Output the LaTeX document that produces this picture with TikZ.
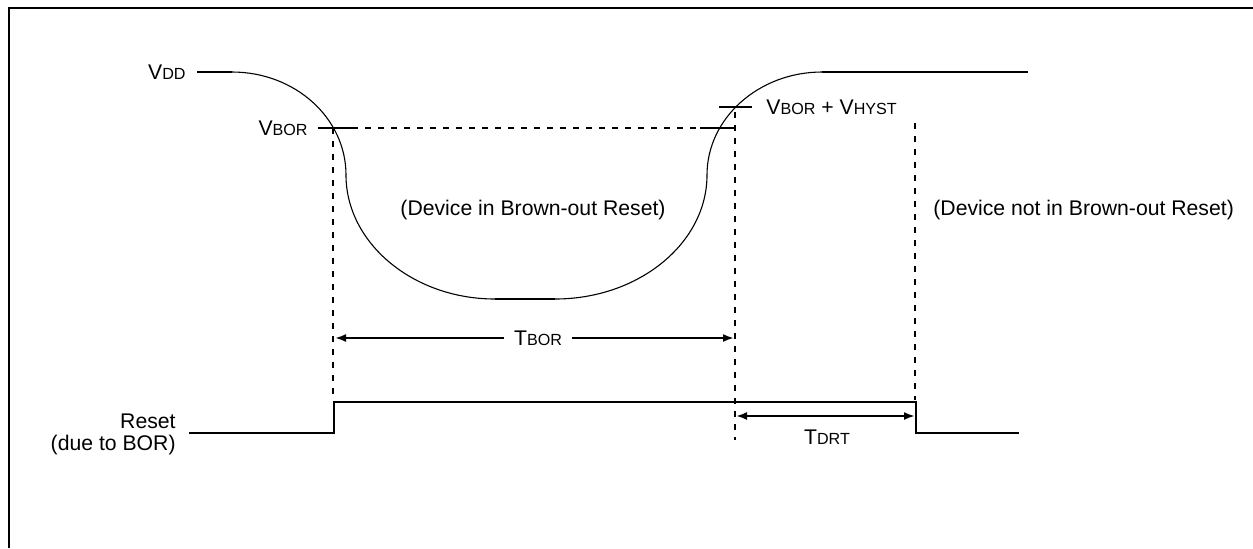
\documentclass[tikz,border=0pt]{standalone}
\usepackage{fontspec}
\setmainfont{Liberation Sans}
\usetikzlibrary{arrows.meta}
\newcommand\subtxt[1]{{\fontsize{8.06}{9}\selectfont #1}}
\begin{document}
\begin{tikzpicture}[x=0.5pt,y=-0.5pt,
  lbl/.style={inner sep=0pt,font=\fontsize{10.6}{12}\selectfont},
  sig/.style={line width=1pt},
  curv/.style={line width=0.55pt},
  dsh/.style={line width=1pt,dash pattern=on 3pt off 3.5pt},
  tip/.style={},
  dim/.style={line width=1pt,-{Latex[length=5.5pt,width=4pt]}},
  dimboth/.style={line width=1pt,{Latex[length=5.5pt,width=4pt]}-{Latex[length=5.5pt,width=4pt]}},
  frame/.style={line width=1.1pt}]
\useasboundingbox (0,0) rectangle (1253,548);
% frame
\draw[frame] (9,548) -- (9,8) -- (1253,8);
% labels
\node[lbl,anchor=east] (vdd) at (186,72) {V\subtxt{DD}};
\node[lbl,anchor=east] (vbor) at (308,128) {V\subtxt{BOR}};
\node[lbl,anchor=west] (vhyst) at (766,107) {V\subtxt{BOR} + V\subtxt{HYST}};
\node[lbl] (inbor) at (533,210) {(Device in Brown-out Reset)};
\node[lbl,anchor=west] (notbor) at (933,210) {(Device not in Brown-out Reset)};
\node[lbl,inner xsep=5pt] (tbor) at (538,338) {T\subtxt{BOR}};
\node[lbl] (tdrt) at (827,437) {T\subtxt{DRT}};
\node[lbl,anchor=east,align=right,font=\fontsize{10.6}{11}\selectfont] (rst) at (176,434) {Reset\\(due to BOR)};
% coordinates
\coordinate (a0) at (197,72);
\coordinate (a1) at (232,72);
\coordinate (a2) at (346,175);
\coordinate (a3) at (495,299);
\coordinate (a4) at (555,299);
\coordinate (a5) at (707,175);
\coordinate (a6) at (822,72);
\coordinate (a7) at (1028,72);
% VDD waveform
\draw[sig] (a0) -- (a1);
\draw[curv] (a1) .. controls (295,72) and (346,118) .. (a2)
  .. controls (346,243) and (413,299) .. (a3);
\draw[sig] (a3) -- (a4);
\draw[curv] (a4) .. controls (639,299) and (707,243) .. (a5)
  .. controls (707,118) and (759,72) .. (a6);
\draw[sig] (a6) -- (a7);
% VBOR threshold
\coordinate (b0) at (318,128);
\coordinate (b1) at (352,128);
\coordinate (b2) at (700,128);
\coordinate (b3) at (735,128);
\draw[sig] (b0) -- (b1);
\draw[dsh] (b1) -- (b2);
\draw[sig] (b2) -- (b3);
% VBOR+VHYST tick
\coordinate (h0) at (719,107);
\coordinate (h1) at (752,107);
\draw[sig] (h0) -- (h1);
% vertical dashed lines
\coordinate (d1t) at (333,128);
\coordinate (d1b) at (333,400);
\coordinate (d2t) at (735,112);
\coordinate (d2b) at (735,440);
\coordinate (d3t) at (915,123);
\coordinate (d3b) at (915,400);
\draw[dsh] (d1t) -- (d1b);
\draw[dsh] (d2t) -- (d2b);
\draw[dsh] (d3t) -- (d3b);
% Reset waveform
\coordinate (r0) at (189,433);
\coordinate (r1) at (334,433);
\coordinate (r2) at (334,402);
\coordinate (r3) at (916,402);
\coordinate (r4) at (916,433);
\coordinate (r5) at (1019,433);
\draw[sig] (r0) -- (r1) -- (r2) -- (r3) -- (r4) -- (r5);
% TBOR dimension
\coordinate (t0) at (335,338);
\coordinate (t1) at (734,338);
\draw[dim] (tbor.west) -- (t0);
\draw[dim] (tbor.east) -- (t1);
% TDRT dimension
\coordinate (u0) at (736,416);
\coordinate (u1) at (915,416);
\draw[dimboth] (u0) -- (u1);
\end{tikzpicture}
\end{document}
